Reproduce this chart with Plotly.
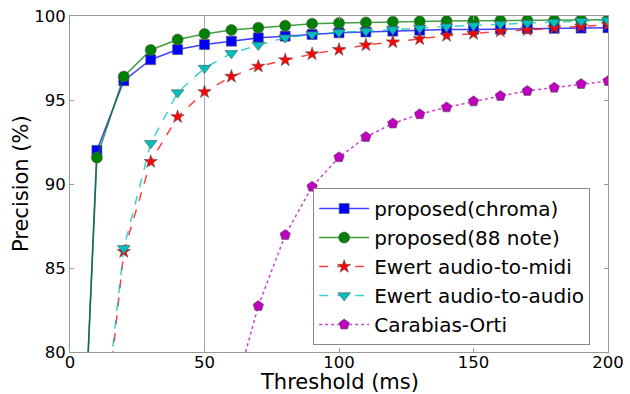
import plotly.graph_objects as go

thresholds = [0, 10, 20, 30, 40, 50, 60, 70, 80, 90, 100, 110, 120, 130, 140, 150, 160, 170, 180, 190, 200]

chroma = [55.0, 92.0, 96.15, 97.4, 98.0, 98.3, 98.5, 98.7, 98.8, 98.9, 99.0, 99.05, 99.1, 99.15, 99.2, 99.2, 99.22, 99.25, 99.27, 99.28, 99.3]
note88 = [55.5, 91.57, 96.4, 97.98, 98.6, 98.93, 99.17, 99.3, 99.42, 99.54, 99.58, 99.62, 99.66, 99.68, 99.7, 99.72, 99.73, 99.74, 99.75, 99.77, 99.78]
ewert_midi = [None, 71.0, 85.97, 91.33, 94.0, 95.48, 96.4, 97.0, 97.38, 97.74, 98.0, 98.27, 98.45, 98.63, 98.83, 98.95, 99.1, 99.17, 99.29, 99.39, 99.48]
ewert_audio = [None, 71.8, 86.17, 92.42, 95.44, 96.9, 97.78, 98.27, 98.71, 98.9, 99.03, 99.1, 99.2, 99.29, 99.37, 99.44, 99.52, 99.58, 99.64, 99.7, 99.74]
carabias = [None, None, None, None, None, None, 76.9, 82.74, 86.96, 89.84, 91.59, 92.8, 93.6, 94.15, 94.56, 94.92, 95.24, 95.54, 95.73, 95.95, 96.13]

x_ticks = [0, 50, 100, 150, 200]
y_ticks = [80, 85, 90, 95, 100]

series = [
    ("proposed(chroma)", chroma, "#0000ff", "rgba(0,0,255,0.75)", "solid", "square", 10),
    ("proposed(88 note)", note88, "#008000", "rgba(0,128,0,0.75)", "solid", "circle", 11),
    ("Ewert audio-to-midi", ewert_midi, "#ff0000", "rgba(255,0,0,0.75)", "dash", "star", 10),
    ("Ewert audio-to-audio", ewert_audio, "#00bfbf", "rgba(0,191,191,0.75)", "dash", "triangle-down", 11),
    ("Carabias-Orti", carabias, "#bf00bf", "rgba(191,0,191,0.75)", "dot", "pentagon", 11),
]

fig = go.Figure()
for name, vals, mcol, lcol, dash, sym, size in series:
    fig.add_trace(go.Scatter(
        x=thresholds, y=vals, name=name, mode="lines+markers",
        line=dict(color=lcol, width=1.5, dash=dash),
        marker=dict(color=mcol, symbol=sym, size=size, line=dict(color="#555555", width=0.6)),
        connectgaps=False,
    ))

fig.add_shape(type="line", xref="x", yref="paper", x0=50, x1=50, y0=0, y1=1,
              line=dict(color="#aaaaaa", width=1), layer="below")

fig.add_annotation(text="Threshold (ms)", xref="paper", yref="paper", x=0.5, y=-0.089,
                   xanchor="center", yanchor="middle", showarrow=False,
                   font=dict(family="DejaVu Sans", size=21, color="black"))
fig.add_annotation(text="Precision (%)", xref="paper", yref="paper", x=-0.091, y=0.5,
                   xanchor="center", yanchor="middle", showarrow=False, textangle=-90,
                   font=dict(family="DejaVu Sans", size=21, color="black"))

axis_common = dict(
    showgrid=False, zeroline=False, showline=True, linecolor="#999999", linewidth=1,
    mirror="ticks", ticks="inside", ticklen=4, tickcolor="#999999", automargin=False,
    tickfont=dict(family="DejaVu Sans", size=16.5, color="black"),
)

fig.update_layout(
    width=630, height=394,
    margin=dict(l=70, r=22, t=16, b=42),
    paper_bgcolor="white", plot_bgcolor="white",
    font=dict(family="DejaVu Sans", color="black"),
    xaxis=dict(range=[0, 200], tickvals=x_ticks, ticklabelstandoff=-5, **axis_common),
    yaxis=dict(range=[80, 100], tickvals=y_ticks, **axis_common),
    legend=dict(x=0.452, y=0.488, xanchor="left", yanchor="top",
                bordercolor="#888888", borderwidth=1, bgcolor="white",
                font=dict(size=20, family="DejaVu Sans"), itemwidth=50,
                tracegroupgap=0),
    showlegend=True,
)

fig.write_html("out.html", config={"displayModeBar": False},
               post_script="document.body.style.margin='0';document.body.style.overflow='hidden';")
